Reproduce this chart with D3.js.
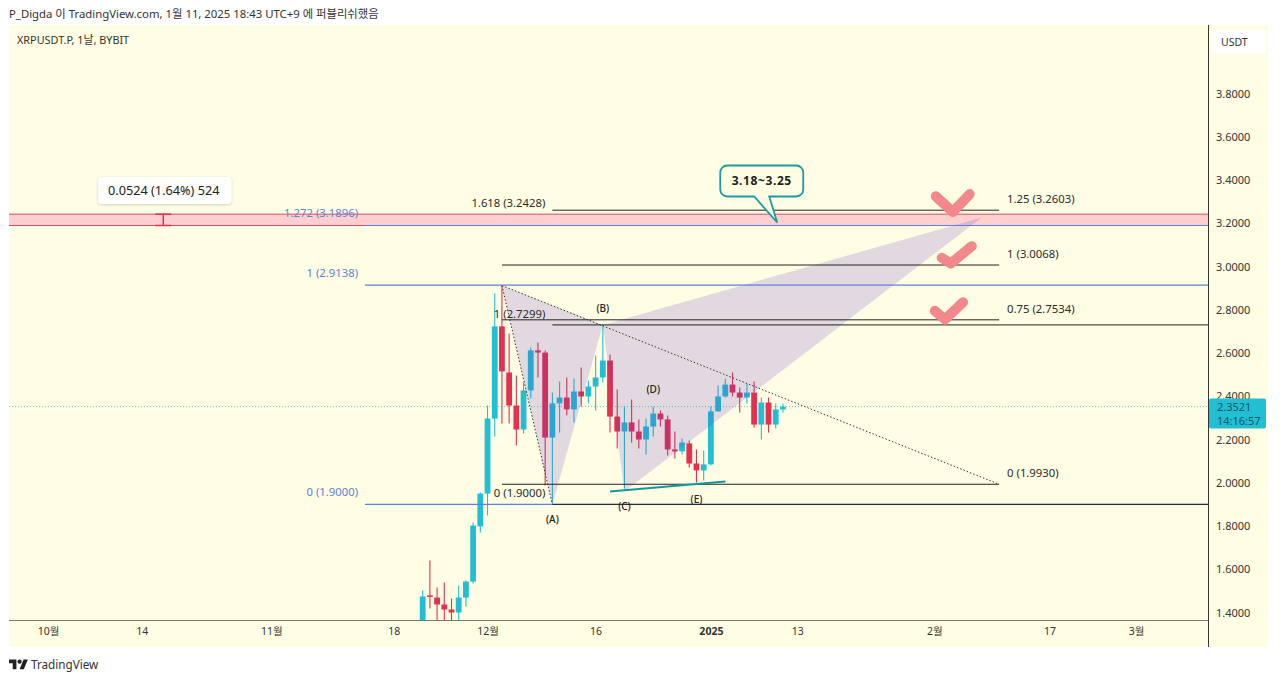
<!DOCTYPE html>
<html>
<head>
<meta charset="utf-8">
<script src="https://cdn.jsdelivr.net/npm/d3@7"></script>
<style>
  html, body { margin: 0; padding: 0; background: #fff; overflow: hidden; }
  text { font-family: "Noto Sans", "Noto Sans CJK KR", sans-serif; }
</style>
</head>
<body>
<div id="graph"></div>
<script>
// Daily candles
const candleDates = ["2024-11-22","2024-11-23","2024-11-24","2024-11-25","2024-11-26","2024-11-27","2024-11-28","2024-11-29","2024-11-30",
  "2024-12-01","2024-12-02","2024-12-03","2024-12-04","2024-12-05","2024-12-06","2024-12-07","2024-12-08","2024-12-09","2024-12-10",
  "2024-12-11","2024-12-12","2024-12-13","2024-12-14","2024-12-15","2024-12-16","2024-12-17","2024-12-18","2024-12-19","2024-12-20",
  "2024-12-21","2024-12-22","2024-12-23","2024-12-24","2024-12-25","2024-12-26","2024-12-27","2024-12-28","2024-12-29","2024-12-30",
  "2024-12-31","2025-01-01","2025-01-02","2025-01-03","2025-01-04","2025-01-05","2025-01-06","2025-01-07","2025-01-08","2025-01-09",
  "2025-01-10","2025-01-11"];
const opens = [1.271,1.479,1.469,1.437,1.414,1.400,1.469,1.543,1.798,
  1.950,2.297,2.723,2.510,2.357,2.246,2.427,2.612,2.602,2.209,
  2.367,2.394,2.339,2.422,2.399,2.445,2.487,2.565,2.306,2.237,
  2.279,2.237,2.200,2.260,2.320,2.293,2.154,2.145,2.182,2.089,
  2.057,2.085,2.330,2.399,2.454,2.417,2.394,2.417,2.269,2.371,
  2.269,2.339];
const highs = [1.502,1.641,1.516,1.539,1.465,1.525,1.548,1.816,1.955,
  2.357,2.875,2.912,2.690,2.496,2.464,2.625,2.649,2.612,2.417,
  2.468,2.487,2.482,2.533,2.473,2.588,2.727,2.593,2.431,2.353,
  2.385,2.293,2.297,2.353,2.334,2.311,2.237,2.205,2.195,2.154,
  2.149,2.353,2.450,2.482,2.510,2.441,2.459,2.468,2.394,2.394,
  2.367,2.367];
const lows = [1.224,1.419,1.340,1.317,1.340,1.326,1.428,1.534,1.770,
  1.849,2.214,2.274,2.274,2.172,2.228,2.390,2.487,1.987,1.904,
  2.232,2.311,2.279,2.353,2.367,2.334,2.464,2.232,2.158,1.973,
  2.186,2.158,2.131,2.214,2.260,2.126,2.112,2.131,2.071,2.001,
  2.010,2.080,2.330,2.394,2.399,2.325,2.367,2.256,2.200,2.232,
  2.251,2.325];
const closes = [1.474,1.472,1.437,1.414,1.400,1.469,1.543,1.802,1.950,
  2.297,2.723,2.515,2.357,2.246,2.427,2.612,2.602,2.209,2.367,
  2.394,2.339,2.422,2.399,2.445,2.487,2.565,2.306,2.237,2.279,
  2.237,2.200,2.260,2.320,2.293,2.154,2.145,2.186,2.089,2.057,
  2.085,2.330,2.399,2.454,2.417,2.394,2.417,2.269,2.371,2.269,
  2.339,2.3521];

const priceTicks = [1.4,1.6,1.8,2.0,2.2,2.4,2.6,2.8,3.0,3.2,3.4,3.6,3.8];
const timeTicks = ["2024-10-01","2024-10-14","2024-11-01","2024-11-18","2024-12-01","2024-12-16","2025-01-01","2025-01-13","2025-02-01","2025-02-17","2025-03-01"];
const timeTickLabels = ["10월","14","11월","18","12월","16","2025","13","2월","17","3월"];

const lastPrice = 2.3521;
const bandPrices = [3.1896, 3.2420];

// fib levels: label, price
const blueLevels = [["1.272 (3.1896)",3.1896],["1 (2.9138)",2.9138],["0 (1.9000)",1.9000]];
const leftLevels = [["1.618 (3.2428)",3.2428],["1 (2.7299)",2.7299],["0 (1.9000)",1.9000]];
const rightLevels = [["1.25 (3.2603)",3.2603],["1 (3.0068)",3.0068],["0.75 (2.7534)",2.7534],["0 (1.9930)",1.9930]];

// drawing anchors: date, price
const triangleXAB = [["2024-12-03",2.912],["2024-12-10",1.900],["2024-12-17",2.7299]];
const triangleBCD = [["2024-12-17",2.7299],["2024-12-20",1.960],["2025-02-07T14:00",3.2266]];
const dottedLine = [["2024-12-03",2.912],["2025-02-10",1.993]];
const dottedLeg = [["2024-12-03",2.912],["2024-12-10",1.900]];
const tealLine = [["2024-12-18",1.960],["2025-01-03",2.006]];
const pointLabels = [["(A)","2024-12-10",1.813],["(B)","2024-12-17",2.790],["(C)","2024-12-20",1.873],["(D)","2024-12-24",2.413],["(E)","2024-12-30",1.908]];
const checkMarks = [
  [["2025-02-01T05:00",3.325],["2025-02-03T14:00",3.252],["2025-02-05T22:00",3.335]],
  [["2025-02-02T01:00",3.040],["2025-02-03T07:00",3.014],["2025-02-06T05:00",3.094]],
  [["2025-02-01T02:00",2.795],["2025-02-02T12:00",2.755],["2025-02-05T00:00",2.835]]
];
const calloutTip = ["2025-01-10T05:00",3.2035];
const calloutText = "3.18~3.25";
const measureDate = "2024-10-17";
const measureText = "0.0524 (1.64%) 524";

const parseDate = s => new Date(s.length > 10 ? s + "Z" : s + "T00:00Z");

const plotLeft = 9, plotRight = 1208, plotTop = 25, plotBottom = 620, axisRight = 1268, axisBottom = 647;
const bg = "#fffde3", upColor = "#22bfd3", downColor = "#e5304f", blue = "#5b84d6", ink = "#2b2b2b";

const xscale = d3.scaleUtc()
  .domain([parseDate("2024-10-01"), parseDate("2025-03-01")])
  .range([48, 1136]);
const yscale = d3.scaleLinear().domain([1.4, 3.8]).range([612.5, 93.5]);

const px = p => xscale(parseDate(p[0]));
const py = p => yscale(p[1]);
const pointLine = d3.line().x(px).y(py);

const chart = d3.select("#graph").append("svg").attr("width", 1280).attr("height", 681);

// header + backgrounds
chart.append("text").attr("x", 9).attr("y", 18).attr("font-size", 11.35).attr("fill", "#333")
  .text("P_Digda 이 TradingView.com, 1월 11, 2025 18:43 UTC+9 에 퍼블리쉬했음");
chart.append("rect").attr("x", plotLeft).attr("y", plotTop).attr("width", axisRight - plotLeft).attr("height", axisBottom - plotTop).attr("fill", bg);
chart.append("text").attr("x", 17).attr("y", 44).attr("font-size", 10.85).attr("fill", "#333").text("XRPUSDT.P, 1날, BYBIT");

chart.append("clipPath").attr("id", "plot-clip").append("rect")
  .attr("x", plotLeft).attr("y", plotTop).attr("width", plotRight - plotLeft).attr("height", plotBottom - plotTop);
const plot = chart.append("g").attr("clip-path", "url(#plot-clip)");

// red band
plot.append("rect").attr("x", plotLeft).attr("width", plotRight - plotLeft)
  .attr("y", yscale(bandPrices[1])).attr("height", yscale(bandPrices[0]) - yscale(bandPrices[1]))
  .attr("fill", "#fdd0cf");
plot.selectAll("line.band").data(bandPrices).enter().append("line").attr("class", "band")
  .attr("x1", plotLeft).attr("x2", plotRight)
  .attr("y1", d => yscale(d)).attr("y2", d => yscale(d))
  .attr("stroke", "#d94a6c").attr("stroke-width", 1);

// last price dotted line
plot.append("line").attr("x1", plotLeft).attr("x2", plotRight)
  .attr("y1", yscale(lastPrice)).attr("y2", yscale(lastPrice))
  .attr("stroke", upColor).attr("stroke-opacity", 0.7).attr("stroke-dasharray", "1 2");

// candles
const candles = candleDates.map((d, i) => ({ date: parseDate(d), o: opens[i], h: highs[i], l: lows[i], c: closes[i] }));
const candleColor = d => d.c >= d.o ? upColor : downColor;
plot.selectAll("line.wick").data(candles).enter().append("line").attr("class", "wick")
  .attr("x1", d => xscale(d.date)).attr("x2", d => xscale(d.date))
  .attr("y1", d => yscale(d.h)).attr("y2", d => yscale(d.l))
  .attr("stroke", candleColor).attr("stroke-width", 1.1);
plot.selectAll("rect.body").data(candles).enter().append("rect").attr("class", "body")
  .attr("x", d => xscale(d.date) - 2.9).attr("width", 5.8)
  .attr("y", d => yscale(Math.max(d.o, d.c)))
  .attr("height", d => Math.max(1.5, Math.abs(yscale(d.o) - yscale(d.c))))
  .attr("fill", candleColor);

// harmonic pattern fill, on top of the candles
plot.selectAll("path.pattern").data([triangleXAB, triangleBCD]).enter().append("path").attr("class", "pattern")
  .attr("d", d => pointLine(d) + "Z").attr("fill", "rgb(90,53,204)").attr("fill-opacity", 0.18);

plot.selectAll("path.dotted").data([dottedLine, dottedLeg]).enter().append("path").attr("class", "dotted")
  .attr("d", pointLine).attr("fill", "none").attr("stroke", "#333").attr("stroke-width", 1).attr("stroke-dasharray", "1.5 2");

// fib lines
const blueStart = parseDate("2024-11-14"), leftStart = parseDate("2024-12-10"), rightStart = parseDate("2024-12-03"), rightEnd = parseDate("2025-02-10");

plot.selectAll("line.blue").data(blueLevels).enter().append("line").attr("class", "blue")
  .attr("x1", xscale(blueStart)).attr("x2", plotRight)
  .attr("y1", d => yscale(d[1])).attr("y2", d => yscale(d[1]))
  .attr("stroke", blue).attr("stroke-width", 1.1);
// the 1.618 level sits under the band's top edge, so only the lower two show
plot.selectAll("line.left").data(leftLevels.slice(1)).enter().append("line").attr("class", "left")
  .attr("x1", xscale(leftStart)).attr("x2", plotRight)
  .attr("y1", d => yscale(d[1])).attr("y2", d => yscale(d[1]))
  .attr("stroke", "#222").attr("stroke-width", 1);
plot.selectAll("line.right").data(rightLevels).enter().append("line").attr("class", "right")
  .attr("x1", (d, i) => i === 0 ? xscale(leftStart) : xscale(rightStart)).attr("x2", xscale(rightEnd))
  .attr("y1", d => yscale(d[1])).attr("y2", d => yscale(d[1]))
  .attr("stroke", "#222").attr("stroke-width", 1);

plot.append("path").attr("d", pointLine(tealLine)).attr("stroke", "#129a9a").attr("stroke-width", 2).attr("fill", "none");

// check marks
plot.selectAll("path.check").data(checkMarks).enter().append("path").attr("class", "check")
  .attr("d", pointLine).attr("fill", "none").attr("stroke", "#f2888b")
  .attr("stroke-width", 10).attr("stroke-linecap", "round").attr("stroke-linejoin", "round");

// level labels
chart.selectAll("text.blue-label").data(blueLevels).enter().append("text").attr("class", "blue-label")
  .attr("x", xscale(blueStart) - 7).attr("y", d => yscale(d[1]) - 8).attr("text-anchor", "end")
  .attr("font-size", 11.3).attr("fill", blue).text(d => d[0]);
chart.selectAll("text.left-label").data(leftLevels).enter().append("text").attr("class", "left-label")
  .attr("x", xscale(leftStart) - 7).attr("y", d => yscale(d[1]) - 7).attr("text-anchor", "end")
  .attr("font-size", 11.3).attr("fill", ink).text(d => d[0]);
chart.selectAll("text.right-label").data(rightLevels).enter().append("text").attr("class", "right-label")
  .attr("x", xscale(rightEnd) + 8).attr("y", d => yscale(d[1]) - 7)
  .attr("font-size", 11.3).attr("fill", ink).text(d => d[0]);

chart.selectAll("text.point").data(pointLabels).enter().append("text").attr("class", "point")
  .attr("x", d => xscale(parseDate(d[1]))).attr("y", d => yscale(d[2])).attr("text-anchor", "middle")
  .attr("font-size", 10).attr("font-weight", 500).attr("fill", "#222").text(d => d[0]);

// measure tool
const mx = xscale(parseDate(measureDate));
const measure = chart.append("g").attr("stroke", downColor).attr("stroke-width", 1.5);
measure.append("line").attr("x1", mx).attr("x2", mx).attr("y1", yscale(bandPrices[1])).attr("y2", yscale(bandPrices[0]));
bandPrices.forEach(p => measure.append("line").attr("x1", mx - 8).attr("x2", mx + 8).attr("y1", yscale(p)).attr("y2", yscale(p)));

const shadow = chart.append("filter").attr("id", "soft").attr("x", "-20%").attr("y", "-30%").attr("width", "140%").attr("height", "170%");
shadow.append("feDropShadow").attr("dx", 0).attr("dy", 1).attr("stdDeviation", 1.5).attr("flood-opacity", 0.18);
chart.append("rect").attr("x", mx - 65).attr("y", 177).attr("width", 133).attr("height", 27).attr("rx", 4)
  .attr("fill", "#fff").attr("filter", "url(#soft)");
chart.append("text").attr("x", mx + 0.5).attr("y", 195).attr("text-anchor", "middle").attr("font-size", 12.7).attr("fill", "#222").text(measureText);

// callout
const tipX = px(calloutTip), tipY = py(calloutTip);
const calloutPath = d3.path();
const bx0 = tipX - 57, bx1 = tipX + 26, by0 = tipY - 57, by1 = tipY - 26, r = 7;
calloutPath.moveTo(bx0 + r, by0);
calloutPath.lineTo(bx1 - r, by0);
calloutPath.arcTo(bx1, by0, bx1, by0 + r, r);
calloutPath.lineTo(bx1, by1 - r);
calloutPath.arcTo(bx1, by1, bx1 - r, by1, r);
calloutPath.lineTo(tipX - 8, by1);
calloutPath.lineTo(tipX, tipY);
calloutPath.lineTo(tipX - 23, by1);
calloutPath.lineTo(bx0 + r, by1);
calloutPath.arcTo(bx0, by1, bx0, by1 - r, r);
calloutPath.lineTo(bx0, by0 + r);
calloutPath.arcTo(bx0, by0, bx0 + r, by0, r);
calloutPath.closePath();
chart.append("path").attr("d", calloutPath.toString()).attr("fill", bg).attr("stroke", "#1a9ba1").attr("stroke-width", 1.8);
chart.append("text").attr("x", (bx0 + bx1) / 2).attr("y", by0 + 20).attr("text-anchor", "middle")
  .attr("font-size", 12).attr("font-weight", 700).attr("letter-spacing", 0.6).attr("fill", "#222").text(calloutText);

// price axis
const y_axis = d3.axisRight(yscale).tickValues(priceTicks).tickFormat(d3.format(".4f")).tickSize(0).tickPadding(8);
const yAxisG = chart.append("g").attr("transform", "translate(" + plotRight + ",0)").call(y_axis);
yAxisG.select(".domain").remove();
yAxisG.selectAll("text").attr("font-size", 11).attr("fill", "#333").style("font-family", '"Noto Sans", sans-serif');

// time axis
const x_axis = d3.axisBottom(xscale)
  .tickValues(timeTicks.map(parseDate))
  .tickFormat((d, i) => timeTickLabels[i]).tickSize(0).tickPadding(8);
const xAxisG = chart.append("g").attr("transform", "translate(0," + plotBottom + ")").call(x_axis);
xAxisG.select(".domain").remove();
xAxisG.selectAll("text").attr("font-size", 10.5).attr("fill", "#333")
  .attr("font-weight", (d, i) => timeTickLabels[i] === "2025" ? 700 : 400)
  .style("font-family", '"Noto Sans", "Noto Sans CJK KR", sans-serif');

// axis borders
chart.append("line").attr("x1", plotRight + 0.5).attr("x2", plotRight + 0.5).attr("y1", plotTop).attr("y2", axisBottom).attr("stroke", "#333");
chart.append("line").attr("x1", plotLeft).attr("x2", plotRight).attr("y1", plotBottom + 0.5).attr("y2", plotBottom + 0.5).attr("stroke", "#7c7a66").attr("stroke-width", 1.2);

// USDT button
chart.append("rect").attr("x", 1212).attr("y", 30).attr("width", 54).attr("height", 24).attr("rx", 4).attr("fill", "#fff");
chart.append("text").attr("x", 1221).attr("y", 46).attr("font-size", 10.5).attr("fill", "#333").text("USDT");

// last price tag
const tagY = yscale(lastPrice);
chart.append("rect").attr("x", plotRight + 1).attr("y", tagY - 8).attr("width", 57).attr("height", 30).attr("rx", 2).attr("fill", upColor);
chart.append("text").attr("x", 1217).attr("y", tagY + 4).attr("font-size", 11).attr("fill", "#0d5566").text(d3.format(".4f")(lastPrice));
chart.append("text").attr("x", 1217).attr("y", tagY + 18).attr("font-size", 11).attr("fill", "#0d5566").text("14:16:57");

// logo
const logo = chart.append("g").attr("transform", "translate(9,657.5) scale(0.53)").attr("fill", "#222");
logo.append("path").attr("d", "M14 22H7V11H0V4h14v18zM28 22h-8l7.5-18h8L28 22z");
logo.append("circle").attr("cx", 20).attr("cy", 8).attr("r", 4);
chart.append("text").attr("x", 31).attr("y", 669).attr("font-size", 11.7).attr("fill", "#333").text("TradingView");
</script>
</body>
</html>
